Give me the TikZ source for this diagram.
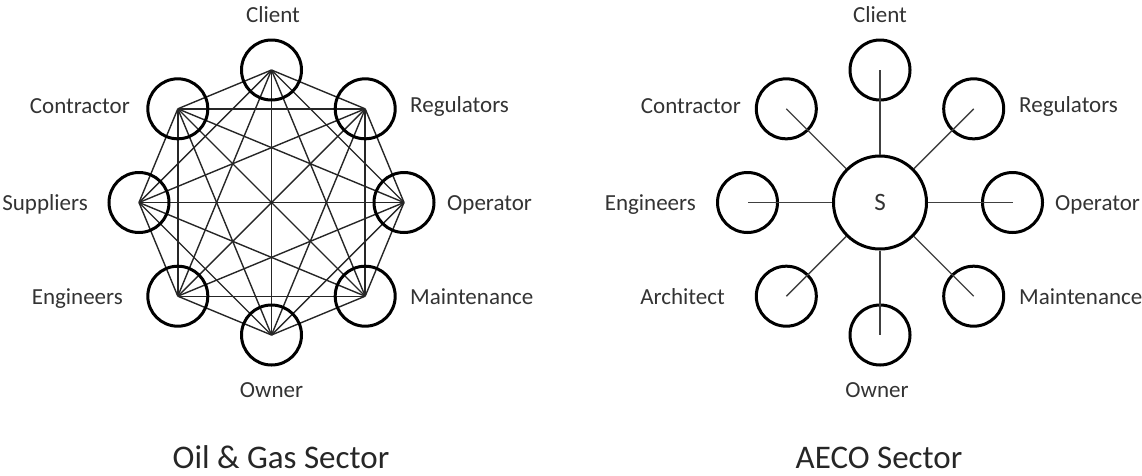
\documentclass[tikz,border=0pt]{standalone}
\usepackage{fontspec}
\setmainfont{Carlito}
\begin{document}
\begin{tikzpicture}[x=1pt,y=-1pt,
  ring/.style={circle,draw=black,line width=3pt,minimum size=60pt,inner sep=0pt},
  hub/.style={circle,draw=black,line width=3pt,minimum size=93pt,inner sep=0pt,fill=white,
    font=\fontsize{25}{30}\selectfont,text=black!80},
  link/.style={line width=1.4pt,draw=black!85},
  spoke/.style={line width=1.4pt,draw=black!75},
  lab/.style={inner sep=0pt,font=\fontsize{23}{27}\selectfont,text=black!80},
  ttl/.style={inner sep=0pt,font=\fontsize{33}{38}\selectfont,text=black!85}]
\useasboundingbox (0,0) rectangle (1142,475);
% ---------- left: Oil & Gas ----------
\foreach \a/\n in {90/1,45/2,0/3,-45/4,-90/5,-135/6,180/7,135/8}{
  \coordinate (l\n) at ({271.5+132.5*cos(\a)},{202.5-132.5*sin(\a)});
}
\foreach \i in {1,...,7}{
  \pgfmathtruncatemacro\k{\i+1}
  \foreach \j in {\k,...,8}{\draw[link] (l\i) -- (l\j);}
}
\foreach \n in {1,...,8}{\node[ring] (lc\n) at (l\n) {};}
\node[lab,anchor=base] (lt1) at (273,22) {Client};
\node[lab,anchor=base west] (lt2) at (410,112) {Regulators};
\node[lab,anchor=base west] (lt3) at (447,210) {Operator};
\node[lab,anchor=base west] (lt4) at (410,304) {Maintenance};
\node[lab,anchor=base] (lt5) at (271.5,397) {Owner};
\node[lab,anchor=base east] (lt6) at (123,304) {Engineers};
\node[lab,anchor=base east] (lt7) at (88,210) {Suppliers};
\node[lab,anchor=base east] (lt8) at (130,113) {Contractor};
\node[ttl,anchor=base] (ltitle) at (281,468) {Oil \& Gas Sector};
% ---------- right: AECO ----------
\node[hub] (S) at (880,202.5) {S};
\foreach \a/\n in {90/1,45/2,0/3,-45/4,-90/5,-135/6,180/7,135/8}{
  \node[ring] (rc\n) at ({880+132.5*cos(\a)},{202.5-132.5*sin(\a)}) {};
  \draw[spoke] (S) -- (rc\n.center);
}
\node[lab,anchor=base] (rt1) at (880,22) {Client};
\node[lab,anchor=base west] (rt2) at (1019,112) {Regulators};
\node[lab,anchor=base west] (rt3) at (1055,210) {Operator};
\node[lab,anchor=base west] (rt4) at (1019,304) {Maintenance};
\node[lab,anchor=base] (rt5) at (877,397) {Owner};
\node[lab,anchor=base east] (rt6) at (725,304) {Architect};
\node[lab,anchor=base east] (rt7) at (696,210) {Engineers};
\node[lab,anchor=base east] (rt8) at (741,113) {Contractor};
\node[ttl,anchor=base] (rtitle) at (879,468) {AECO Sector};
\end{tikzpicture}
\end{document}
